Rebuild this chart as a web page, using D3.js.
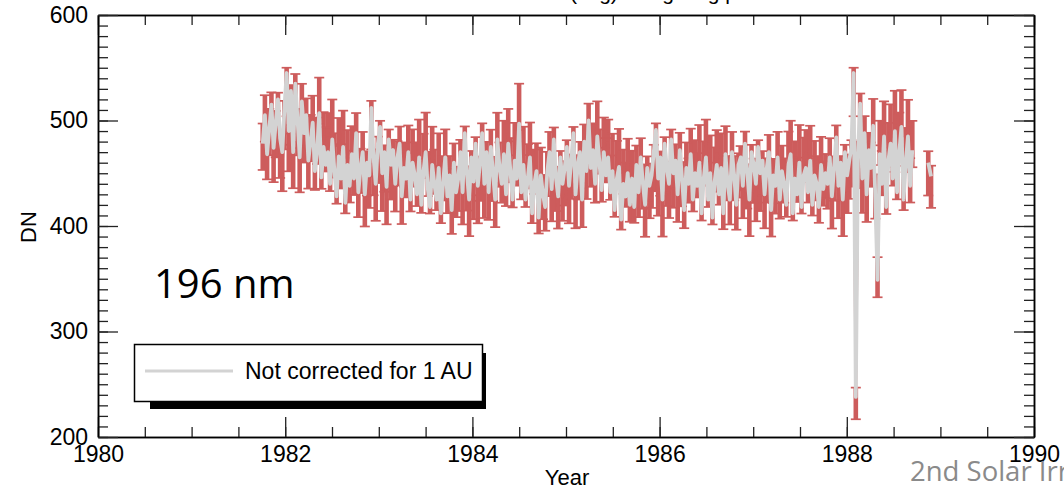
<!DOCTYPE html>
<html><head><meta charset="utf-8">
<script src="https://cdn.jsdelivr.net/npm/d3@7"></script>
<style>body{margin:0;background:#fff;} svg{display:block;}</style>
</head><body>
<svg id="c" width="1064" height="489"></svg>
<script>
// ---- data ----
const startYear = 1981.76;     // first daily-average sample
const stepYears = 0.02321;     // sampling interval of the series
const uncorrected = [
478,505,468,492,515,474,498,520,483,470,
512,545,490,528,470,535,502,465,518,488,
505,462,480,498,452,470,507,446,475,458,
470,440,482,452,428,466,445,475,422,458,
438,468,445,488,432,455,470,430,460,448,
512,465,440,478,494,450,470,437,482,458,
472,440,465,478,428,455,445,470,425,460,
448,430,465,420,452,470,435,418,458,440,
425,455,412,440,465,428,448,415,460,432,
445,470,432,488,450,425,465,442,478,438,
460,488,440,470,432,475,450,425,482,455,
440,468,430,478,452,425,462,445,497,432,
458,425,445,465,412,440,452,408,448,430,
418,452,470,435,482,445,428,465,440,455,
475,438,462,488,430,458,470,425,480,452,
500,455,472,440,485,460,434,470,448,465,
432,452,415,445,456,406,440,428,450,420,
445,418,458,432,465,440,420,455,438,448,
470,491,445,465,425,478,455,440,482,450,
462,430,472,445,415,455,440,468,425,450,
438,460,412,445,465,425,450,408,442,458,
430,455,412,468,440,425,470,448,420,458,
465,438,478,452,425,470,458,440,475,450,
462,430,455,470,415,448,438,465,425,452,
440,420,458,468,412,445,430,460,418,448,
455,432,462,420,448,440,418,458,435,450,
440,465,428,455,484,438,460,425,470,448,
462,475,545,238,470,516,445,488,430,472,
455,495,425,349,468,440,485,418,462,478,
445,490,432,470,494,425,460,485,438,472
];
const errors = [
22,22,21,22,23,22,22,23,22,22,
23,23,22,23,22,23,22,21,23,22,
22,21,22,22,21,22,22,21,22,21,
22,21,22,21,21,21,21,22,21,21,
21,21,21,22,21,21,22,21,21,21,
23,21,21,22,22,21,22,21,22,21,
22,21,21,22,21,21,21,22,21,21,
21,21,21,21,21,22,21,20,21,21,
21,21,20,21,21,21,21,20,21,21,
21,22,21,22,21,21,21,21,22,21,
21,22,21,22,21,22,21,21,22,21,
21,21,21,22,21,21,21,21,22,21,
21,21,21,21,20,21,21,20,21,21,
20,21,22,21,22,21,21,21,21,21,
22,21,21,22,21,21,22,21,22,21,
22,21,22,21,22,21,21,22,21,21,
21,21,20,21,21,20,21,21,21,21,
21,20,21,21,21,21,21,21,21,21,
22,22,21,21,21,22,21,21,22,21,
21,21,22,21,20,21,21,21,21,21,
21,21,20,21,21,21,21,20,21,21,
21,21,20,21,21,21,22,21,21,21,
21,21,22,21,21,22,21,21,22,21,
21,21,21,22,20,21,21,21,21,21,
21,21,21,21,20,21,21,21,20,21,
21,21,21,21,21,21,20,21,21,21,
21,21,21,21,22,21,21,21,22,21,
21,22,23,15,22,23,21,22,21,22,
21,22,21,19,21,21,22,20,21,22,
21,22,21,22,22,21,21,22,21,22
];
// isolated late samples
const lateYears = [1988.87, 1988.90];
const lateUncorrected = [460, 447];
const lateErrors = [21, 20];
// (r / 1 AU)^2 by calendar month, used for the 1 AU corrected (red) values
const auFactor = [0.967,0.974,0.988,1.007,1.023,1.032,1.033,1.026,1.012,0.994,0.978,0.968];
const xMajor = [1980,1982,1984,1986,1988,1990];
const yMajor = [200,300,400,500,600];
const titleText = "(avg) using long period";
const legendLabel = "Not corrected for 1 AU";
const bandLabel = "196 nm";
const footerText = "2nd Solar Irradiance Workshop";

// ---- build ----
const svg = d3.select("#c");
const L = 98, R = 1034, T = 15, B = 437;
const x = d3.scaleLinear().domain([1980, 1990]).range([L, R]);
const y = d3.scaleLinear().domain([200, 600]).range([B, T]);
const font = "'Liberation Sans', Arial, Helvetica, sans-serif";

function mk(years, vals, errs) {
  return vals.map((v, i) => {
    const yr = years[i];
    const m = Math.min(11, Math.floor((yr - Math.floor(yr)) * 12));
    return { yr, v, c: v * auFactor[m], e: errs[i] };
  });
}
const mainYears = uncorrected.map((_, i) => startYear + i * stepYears);
const seg1 = mk(mainYears, uncorrected, errors);
const seg2 = mk(lateYears, lateUncorrected, lateErrors);
const all = seg1.concat(seg2);

// title (mostly above the visible area)
svg.append("text").attr("x", 570).attr("y", 0).attr("font-family", font)
  .attr("font-size", 21).text(titleText);

// error bars (red)
const red = "#cd5c5c";
const eb = svg.append("g").attr("stroke", red).attr("fill", "none");
const capW = 5;
all.forEach(d => {
  const xx = x(d.yr), y0 = y(d.c - d.e), y1 = y(d.c + d.e);
  eb.append("line").attr("x1", xx).attr("x2", xx).attr("y1", y0).attr("y2", y1).attr("stroke-width", 4.6);
});
all.forEach(d => {
  const xx = x(d.yr), y0 = y(d.c - d.e), y1 = y(d.c + d.e);
  eb.append("line").attr("x1", xx - capW).attr("x2", xx + capW).attr("y1", y0).attr("y2", y0).attr("stroke-width", 1.7);
  eb.append("line").attr("x1", xx - capW).attr("x2", xx + capW).attr("y1", y1).attr("y2", y1).attr("stroke-width", 1.7);
});
const lineC = d3.line().x(d => x(d.yr)).y(d => y(d.c));
[seg1, seg2].forEach(s => svg.append("path").attr("d", lineC(s))
  .attr("fill", "none").attr("stroke", red).attr("stroke-width", 2.5));

// uncorrected grey line
const lineU = d3.line().x(d => x(d.yr)).y(d => y(d.v));
[seg1, seg2].forEach(s => svg.append("path").attr("d", lineU(s))
  .attr("fill", "none").attr("stroke", "#d3d3d3").attr("stroke-width", 3.8)
  .attr("stroke-linejoin", "round"));

// axes
const xMinor = d3.range(1980, 1990.01, 0.5);
const yMinor = d3.range(200, 600.01, 10);
function styleAxis(g) {
  g.selectAll("path.domain").attr("stroke", "#000").attr("stroke-width", 1.5);
  g.selectAll(".tick line").attr("stroke", "#222").attr("stroke-width", 1.3);
  g.selectAll("text").attr("font-family", font).attr("font-size", 23).attr("fill", "#000");
}
// bottom
svg.append("g").attr("transform", `translate(0,${B})`)
  .call(d3.axisBottom(x).tickValues(xMinor).tickSize(-10).tickSizeOuter(0).tickFormat(""))
  .call(styleAxis);
svg.append("g").attr("transform", `translate(0,${B})`)
  .call(d3.axisBottom(x).tickValues(xMajor).tickSize(-20).tickSizeOuter(0).tickPadding(9).tickFormat(d3.format("d")))
  .call(styleAxis);
// top
svg.append("g").attr("transform", `translate(0,${T})`)
  .call(d3.axisTop(x).tickValues(xMinor).tickSize(-10).tickSizeOuter(0).tickFormat(""))
  .call(styleAxis);
svg.append("g").attr("transform", `translate(0,${T})`)
  .call(d3.axisTop(x).tickValues(xMajor).tickSize(-20).tickSizeOuter(0).tickFormat(""))
  .call(styleAxis);
// left
svg.append("g").attr("transform", `translate(${L},0)`)
  .call(d3.axisLeft(y).tickValues(yMinor).tickSize(-10).tickSizeOuter(0).tickFormat(""))
  .call(styleAxis);
svg.append("g").attr("transform", `translate(${L},0)`)
  .call(d3.axisLeft(y).tickValues(yMajor).tickSize(-20).tickSizeOuter(0).tickPadding(10).tickFormat(d3.format("d")))
  .call(styleAxis);
// right
svg.append("g").attr("transform", `translate(${R},0)`)
  .call(d3.axisRight(y).tickValues(yMinor).tickSize(-10).tickSizeOuter(0).tickFormat(""))
  .call(styleAxis);
svg.append("g").attr("transform", `translate(${R},0)`)
  .call(d3.axisRight(y).tickValues(yMajor).tickSize(-20).tickSizeOuter(0).tickFormat(""))
  .call(styleAxis);

// axis titles
svg.append("text").attr("x", 567).attr("y", 485).attr("text-anchor", "middle")
  .attr("font-family", font).attr("font-size", 22).text("Year");
svg.append("text").attr("transform", "translate(36,227) rotate(-90)").attr("text-anchor", "middle")
  .attr("font-family", font).attr("font-size", 22).text("DN");

// band label
svg.append("text").attr("x", 154).attr("y", 298)
  .attr("font-family", "'Open Sans', sans-serif").attr("font-size", 40).text(bandLabel);

// legend
const lg = svg.append("g");
lg.append("rect").attr("x", 150).attr("y", 353).attr("width", 336).attr("height", 56).attr("fill", "#000");
lg.append("rect").attr("x", 134.5).attr("y", 344.5).attr("width", 348).attr("height", 57)
  .attr("fill", "#fff").attr("stroke", "#000").attr("stroke-width", 1.5);
lg.append("line").attr("x1", 145).attr("x2", 233).attr("y1", 371).attr("y2", 371)
  .attr("stroke", "#d3d3d3").attr("stroke-width", 3);
lg.append("text").attr("x", 245).attr("y", 379).attr("font-family", font)
  .attr("font-size", 23).text(legendLabel);

// footer
svg.append("text").attr("x", 910).attr("y", 481).attr("fill", "#8a8a8a")
  .attr("font-family", "'Open Sans', sans-serif").attr("font-size", 27.5).text(footerText);
</script>
</body></html>
